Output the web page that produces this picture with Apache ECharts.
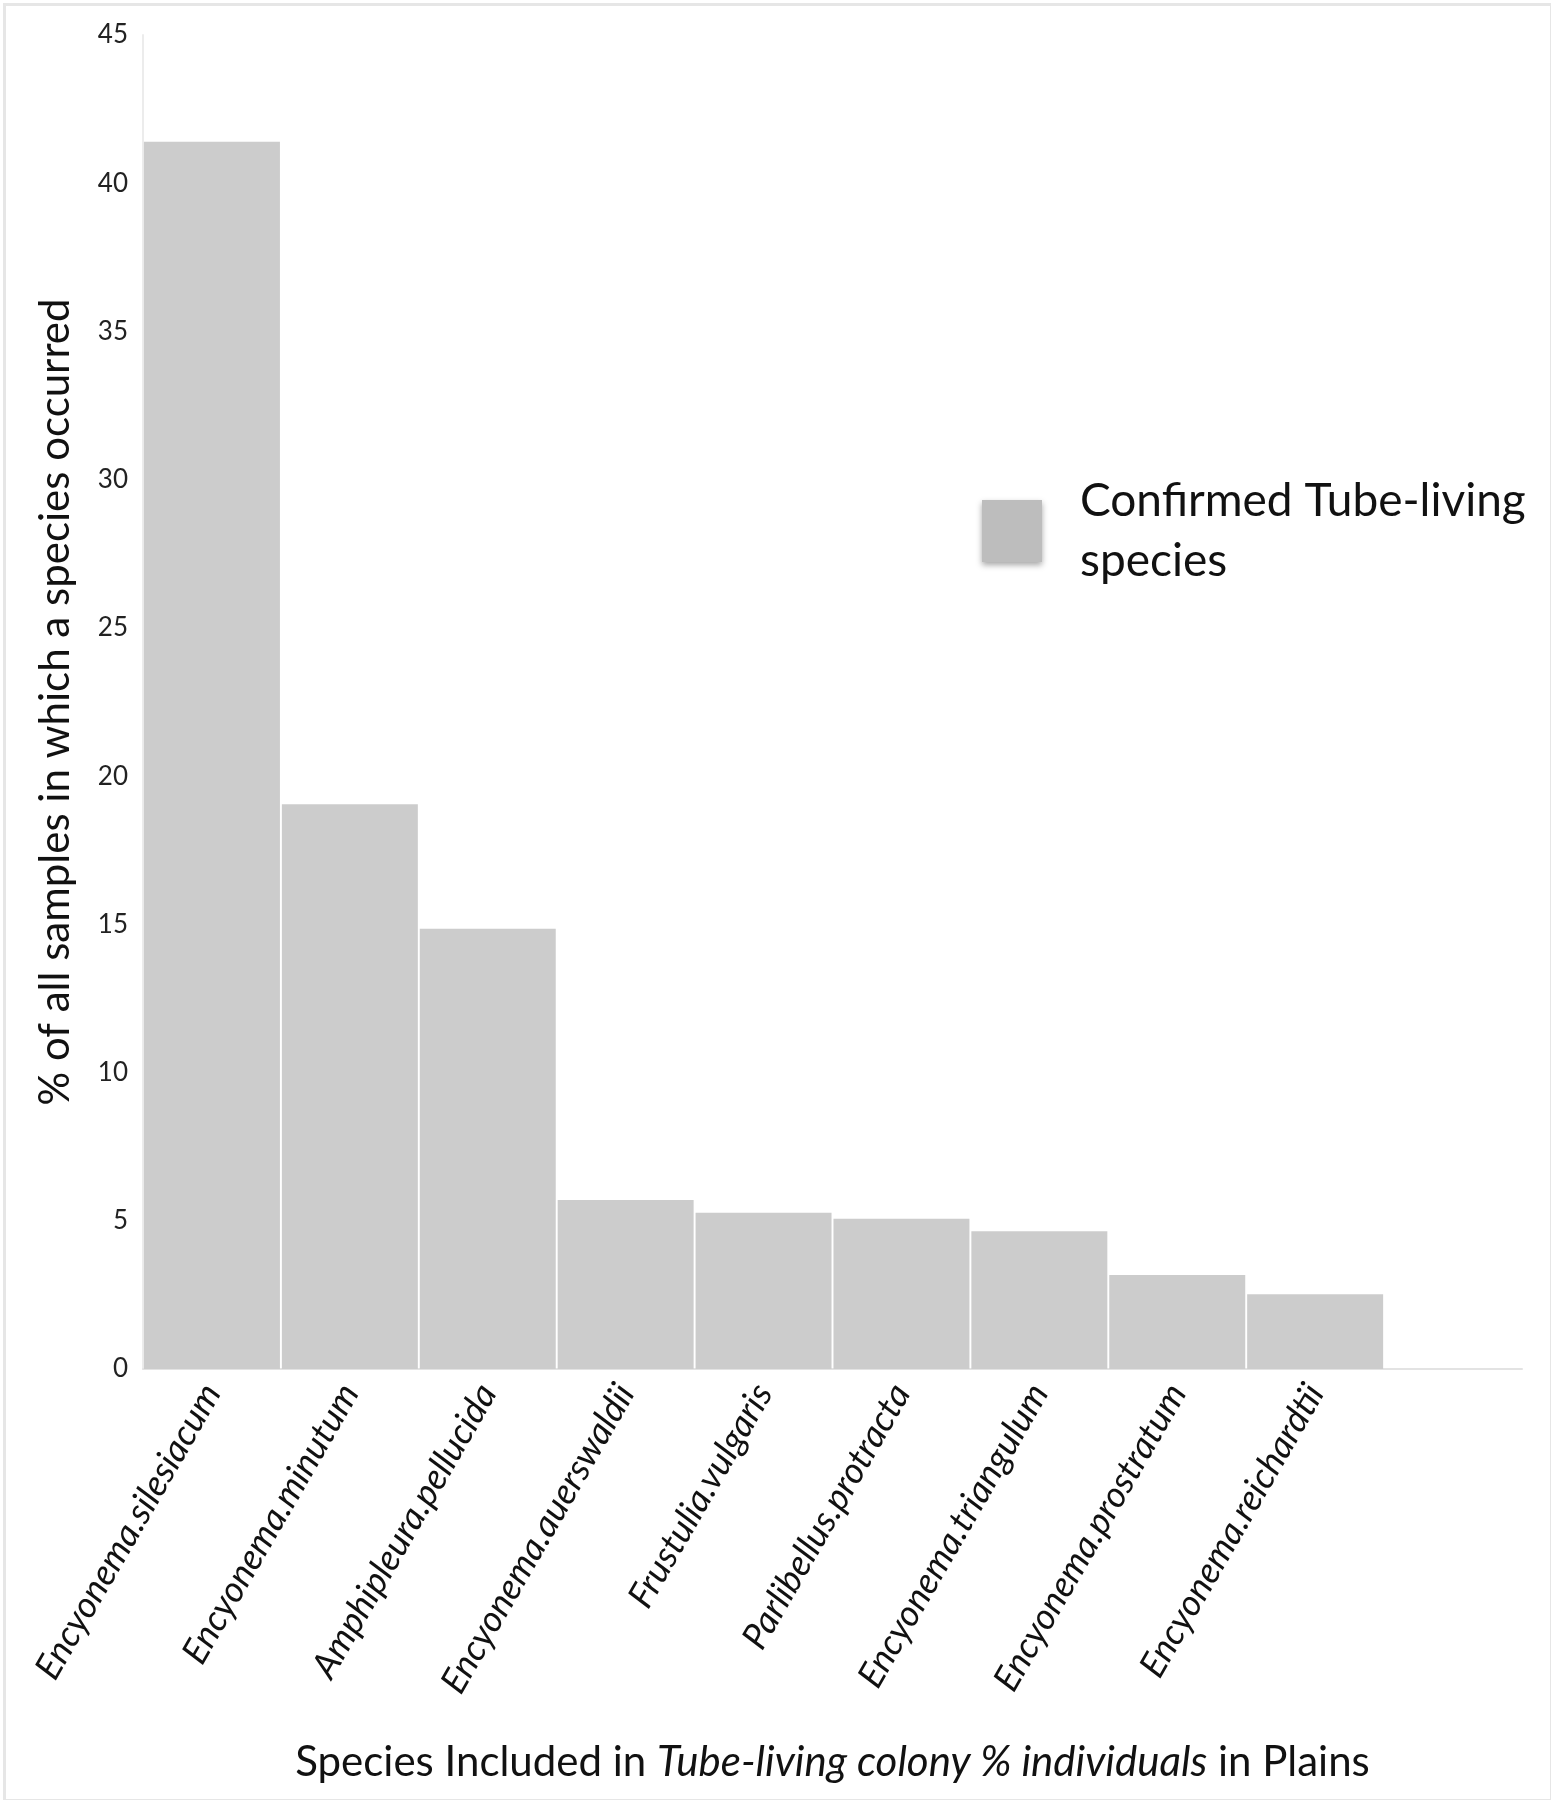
<!DOCTYPE html>
<html>
<head>
<meta charset="utf-8">
<script src="https://cdn.jsdelivr.net/npm/echarts@6/dist/echarts.min.js"></script>
<style>
html,body{margin:0;padding:0;background:#fff;}
#chart{width:1551px;height:1800px;}
</style>
</head>
<body>
<div id="chart"></div>
<script>
const categories = [
  'Encyonema.silesiacum','Encyonema.minutum','Amphipleura.pellucida','Encyonema.auerswaldii',
  'Frustulia.vulgaris','Parlibellus.protracta','Encyonema.triangulum','Encyonema.prostratum',
  'Encyonema.reichardtii',''
];
const values = [41.4, 19.05, 14.85, 5.7, 5.27, 5.07, 4.65, 3.17, 2.52, null];
const seriesName = 'Confirmed Tube-living species';
const yTicks = {min: 0, max: 45, interval: 5};

const FONT = 'Lato, "Open Sans", sans-serif';
const chart = echarts.init(document.getElementById('chart'), null, {renderer: 'canvas'});
chart.setOption({
  backgroundColor: '#fff',
  animation: false,
  graphic: [{
    type: 'rect', left: 2, top: 2,
    shape: {width: 1547, height: 1796},
    style: {fill: 'none', stroke: '#e6e6e6', lineWidth: 3}
  }],
  grid: {left: 143, right: 29, top: 35, bottom: 431, containLabel: false},
  legend: {
    left: 982, top: 449,
    padding: 0,
    orient: 'vertical',
    icon: 'rect',
    itemWidth: 60, itemHeight: 62,
    itemGap: 0,
    formatter: function () { return 'Confirmed Tube-living\nspecies'; },
    textStyle: {fontFamily: FONT, fontSize: 46, color: '#111', lineHeight: 60, padding: [44, 0, 0, 33]},
    itemStyle: {color: '#bdbdbd', shadowBlur: 6, shadowColor: 'rgba(0,0,0,0.35)', shadowOffsetY: 3}
  },
  xAxis: {
    type: 'category',
    data: categories,
    boundaryGap: true,
    axisLine: {show: true, lineStyle: {color: '#e3e3e3', width: 2}},
    axisTick: {show: false},
    axisLabel: {
      interval: 0, rotate: 60, margin: 18,
      fontFamily: FONT, fontStyle: 'italic', fontSize: 36, color: '#111'
    },
    name: '{n|Species Included in }{i|Tube-living colony % individuals}{n| in Plains}',
    nameLocation: 'middle',
    nameGap: 372,
    nameTextStyle: {
      fontFamily: FONT, fontSize: 42, color: '#111',
      rich: {
        n: {fontFamily: FONT, fontSize: 42, color: '#111'},
        i: {fontFamily: FONT, fontSize: 42, color: '#111', fontStyle: 'italic'}
      }
    }
  },
  yAxis: {
    type: 'value',
    min: yTicks.min, max: yTicks.max, interval: yTicks.interval,
    axisLine: {show: true, lineStyle: {color: '#ececec', width: 2}},
    axisTick: {show: false},
    splitLine: {show: false},
    axisLabel: {fontFamily: FONT, fontSize: 26, color: '#222', margin: 15},
    name: '% of all samples in which a species occurred',
    nameLocation: 'middle',
    nameGap: 67,
    nameTextStyle: {fontFamily: FONT, fontSize: 42, color: '#111'}
  },
  series: [{
    name: seriesName,
    type: 'bar',
    data: values,
    barCategoryGap: '1.4%',
    itemStyle: {color: '#cccccc'}
  }]
});
</script>
</body>
</html>
